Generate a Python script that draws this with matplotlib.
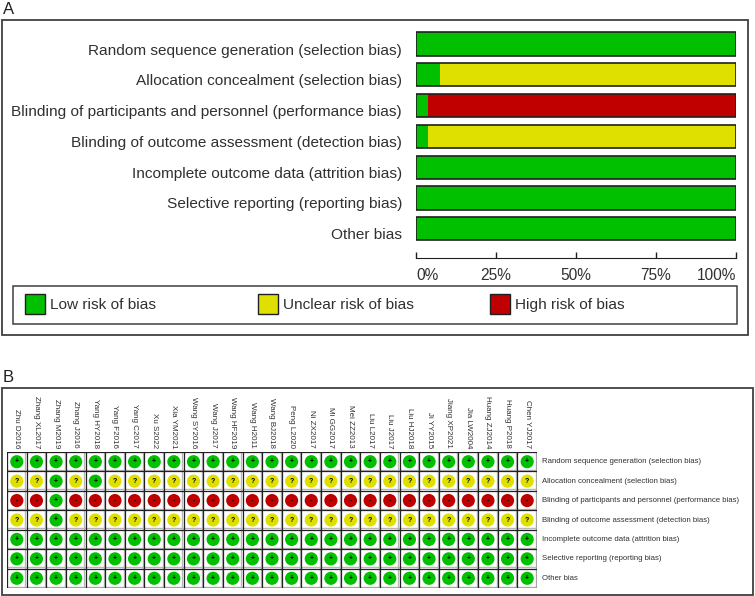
import numpy as np
import matplotlib
matplotlib.use('Agg')
import matplotlib.pyplot as plt
from matplotlib.patches import Rectangle
from matplotlib.transforms import ScaledTranslation

plt.rcParams['font.family'] = ['Liberation Sans', 'DejaVu Sans']

# domains (rows)
domains = [
    'Random sequence generation (selection bias)',
    'Allocation concealment (selection bias)',
    'Blinding of participants and personnel (performance bias)',
    'Blinding of outcome assessment (detection bias)',
    'Incomplete outcome data (attrition bias)',
    'Selective reporting (reporting bias)',
    'Other bias',
]

studies = [
    'Zhu D2016', 'Zhang XL2017', 'Zhang M2019', 'Zhang J2016', 'Yang HY2018',
    'Yang F2016', 'Yang C2017', 'Xu S2022', 'Xia YM2021', 'Wang SY2016',
    'Wang J2017', 'Wang HF2019', 'Wang H2011', 'Wang BJ2018', 'Peng L2020',
    'Ni ZX2017', 'Mi GG2017', 'Mei ZZ2013', 'Liu L2017', 'Liu J2017',
    'Liu HJ2018', 'Ji YY2015', 'Jiang XP2021', 'Jia LW2004', 'Huang ZJ2014',
    'Huang P2018', 'Chen YJ2017',
]

# judgements per domain: L = low, U = unclear, H = high
n = len(studies)
judge = {
    0: ['L'] * n,
    1: ['U', 'U', 'L', 'U', 'L'] + ['U'] * (n - 5),
    2: ['H', 'H', 'L'] + ['H'] * (n - 3),
    3: ['U', 'U', 'L'] + ['U'] * (n - 3),
    4: ['L'] * n,
    5: ['L'] * n,
    6: ['L'] * n,
}

levels = ['L', 'U', 'H']
level_names = ['Low risk of bias', 'Unclear risk of bias', 'High risk of bias']
level_colors = {'L': '#00c000', 'U': '#e0e000', 'H': '#c00000'}
level_symbols = {'L': '+', 'U': '?', 'H': '-'}
tick_vals = [0, 25, 50, 75, 100]
tick_labels = ['0%', '25%', '50%', '75%', '100%']

W, H = 755, 596
fig = plt.figure(figsize=(W / 100, H / 100), dpi=100)


def rect(x0, y0, x1, y1):
    # pixel box (top-left origin) -> figure fraction
    return [x0 / W, 1 - y1 / H, (x1 - x0) / W, (y1 - y0) / H]


def frame(x0, y0, x1, y1, lw=1.3, color='#404040'):
    fig.patches.append(Rectangle((x0 / W, 1 - y1 / H), (x1 - x0) / W, (y1 - y0) / H,
                                 transform=fig.transFigure, fill=False,
                                 lw=lw, edgecolor=color))


# ---------------- Panel A ----------------
fig.text(3 / W, 1 - 2 / H, 'A', fontsize=12, va='top', ha='left', color='#202020')
frame(2, 20, 748, 335)

ax = fig.add_axes(rect(416, 28, 736, 258))
ax.set_xlim(0, 100)
ax.set_ylim(6.95, -0.52)

pct = np.array([[judge[i].count(l) / n * 100 for l in levels] for i in range(len(domains))])
left = np.zeros(len(domains))
for k, l in enumerate(levels):
    ax.barh(np.arange(len(domains)), pct[:, k], left=left, height=0.75,
            color=level_colors[l], edgecolor='none')
    left += pct[:, k]
ax.barh(np.arange(len(domains)), [100] * len(domains), height=0.75,
        fill=False, edgecolor='#202020', lw=1.2)

for s in ['top', 'right', 'left']:
    ax.spines[s].set_visible(False)
ax.spines['bottom'].set_color('#202020')
ax.set_yticks(np.arange(len(domains)))
ax.set_yticklabels(domains, fontsize=11.05, color='#303030')
ax.tick_params(axis='y', length=0, pad=10)
offset = ScaledTranslation(0, -5 / 100, fig.dpi_scale_trans)
for lab in ax.get_yticklabels():
    lab.set_transform(lab.get_transform() + offset)
ax.set_xticks(tick_vals)
ax.set_xticklabels(tick_labels, fontsize=11.2, color='#303030')
ax.tick_params(axis='x', direction='in', length=4, width=1, color='#202020', pad=7)
xl = ax.get_xticklabels()
xl[0].set_ha('left')
xl[-1].set_ha('right')

# legend
frame(13, 286, 737, 324, lw=1.1)
leg_x = [25, 258, 490]
for x0, l, name in zip(leg_x, levels, level_names):
    fig.patches.append(Rectangle((x0 / W, 1 - 314 / H), 20 / W, 20 / H,
                                 transform=fig.transFigure,
                                 facecolor=level_colors[l], edgecolor='#202020', lw=1))
    fig.text((x0 + 25) / W, 1 - 305 / H, name, fontsize=11.05, va='center',
             ha='left', color='#303030')

# ---------------- Panel B ----------------
fig.text(3 / W, 1 - 370 / H, 'B', fontsize=12, va='top', ha='left', color='#202020')
frame(2, 388, 753, 595)

bx = fig.add_axes(rect(7, 452, 537, 588))
bx.set_xlim(0, n)
bx.set_ylim(len(domains), 0)
bx.axis('off')

# cell shadows and grid
for k in range(1, n + 1):
    bx.plot([k - 0.06, k - 0.06], [0, len(domains)], color='#b8b8b8', lw=1)
for r in range(1, len(domains) + 1):
    bx.plot([0, n], [r - 0.07, r - 0.07], color='#b8b8b8', lw=1)
for k in range(n + 1):
    bx.plot([k, k], [0, len(domains)], color='#202020', lw=0.9)
for r in range(len(domains) + 1):
    bx.plot([0, n], [r, r], color='#202020', lw=0.9)

for r in range(len(domains)):
    xs = np.arange(n) + 0.5
    cols = [level_colors[j] for j in judge[r]]
    bx.scatter(xs, [r + 0.5] * n, s=90, c=cols, edgecolors='none', zorder=3)
    for x, j in zip(xs, judge[r]):
        bx.text(x, r + 0.5, level_symbols[j], fontsize=5, ha='center', va='center',
                color='black', zorder=4, fontweight='bold')
    bx.text(n + 0.25, r + 0.5, domains[r], fontsize=5.6, ha='left', va='center',
            color='#303030')

for k, name in enumerate(studies):
    bx.text(k + 0.5, -0.2, name, fontsize=5.8, rotation=270, ha='center', va='bottom',
            color='#303030')

fig.savefig('out.png', dpi=100)
